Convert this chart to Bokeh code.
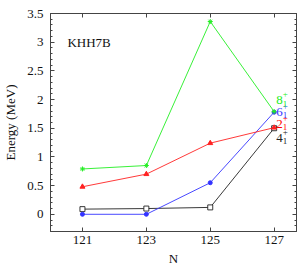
from bokeh.plotting import figure
from bokeh.models import FixedTicker, LinearAxis, Range1d
from bokeh.core.properties import value
from bokeh.embed import file_html
from bokeh.resources import INLINE

N = [121, 123, 125, 127]
e4 = [0.09, 0.10, 0.12, 1.50]   # black, 4_1^+
e6 = [0.00, 0.00, 0.55, 1.78]   # blue, 6_1^+
e2 = [0.48, 0.70, 1.24, 1.51]   # red, 2_1^+
e8 = [0.79, 0.85, 3.36, 1.79]   # green, 8_1^+

label_main = ["8", "6", "2", "4"]
label_x = [127.07, 127.07, 127.07, 127.07]
label_y = [1.99, 1.79, 1.58, 1.33]
label_colors = ["#22ee22", "#3333ff", "#ff0000", "#222222"]

y_ticks = [0, 0.5, 1, 1.5, 2, 2.5, 3, 3.5]
y_tick_labels = {0: "0", 0.5: "0.5", 1: "1", 1.5: "1.5", 2: "2", 2.5: "2.5", 3: "3", 3.5: "3.5"}
x_ticks = [121, 123, 125, 127]

FONT = "Liberation Serif"
GFONT = value("serif")
AX = "#444444"

p = figure(frame_width=246, frame_height=218, output_backend="svg", toolbar_location=None,
           x_range=Range1d(120.0, 127.7), y_range=Range1d(-0.3, 3.5),
           min_border_left=50, min_border_right=4, min_border_top=13, min_border_bottom=41)
p.xgrid.visible = False
p.ygrid.visible = False
p.outline_line_color = AX
p.outline_line_width = 1
p.background_fill_color = "white"

minor = [round(-0.3 + 0.1 * i, 2) for i in range(39)]
minor = [m for m in minor if all(abs(m - t) > 1e-6 for t in y_ticks)]

for ax in p.yaxis:
    ax.ticker = FixedTicker(ticks=y_ticks, minor_ticks=minor)
    ax.major_label_overrides = y_tick_labels
for ax in p.xaxis:
    ax.ticker = FixedTicker(ticks=x_ticks, minor_ticks=[])

def style(ax):
    ax.axis_line_color = AX
    ax.major_tick_line_color = AX
    ax.minor_tick_line_color = AX
    ax.major_tick_in = 4
    ax.major_tick_out = 0
    ax.minor_tick_in = 2
    ax.minor_tick_out = 0
    ax.major_label_text_font = FONT
    ax.major_label_text_font_size = "13px"
    ax.major_label_text_color = "#111111"
    ax.axis_label_text_font = FONT
    ax.axis_label_text_font_size = "13px"
    ax.axis_label_text_font_style = "normal"
    ax.axis_label_text_color = "#111111"

style(p.xaxis[0])
style(p.yaxis[0])
p.xaxis[0].axis_label = "N"
p.yaxis[0].axis_label = "Energy (MeV)"
p.xaxis[0].major_label_standoff = 4
p.yaxis[0].major_label_standoff = 7
p.xaxis[0].axis_label_standoff = 4
p.yaxis[0].axis_label_standoff = 6

right = LinearAxis(ticker=FixedTicker(ticks=y_ticks, minor_ticks=minor))
style(right)
right.major_label_overrides = {t: "" for t in y_ticks}
right.major_label_standoff = 0
p.add_layout(right, "right")
top = LinearAxis(ticker=FixedTicker(ticks=x_ticks, minor_ticks=[]))
style(top)
top.major_label_overrides = {t: "" for t in x_ticks}
top.major_label_standoff = 0
p.add_layout(top, "above")

lw = 0.9
p.line(N, e4, color="#222222", line_width=lw)
p.scatter(N, e4, marker="square", size=5, line_color="#222222", fill_color="white", line_width=0.9)
p.line(N, e6, color="#3333ff", line_width=lw)
p.scatter(N, e6, marker="circle", size=4, color="#3333ff")
p.line(N, e2, color="#ff2222", line_width=lw)
p.scatter(N, e2, marker="triangle", size=5, color="#ff2222")
p.line(N, e8, color="#22ee22", line_width=lw)
p.scatter(N, e8, marker="asterisk", size=5, line_color="#22ee22", line_width=1)

p.text(x=label_x, y=label_y, text=label_main, text_color=label_colors,
       text_font=GFONT, text_font_size="13px", text_baseline="middle", text_align="left")
p.text(x=label_x, y=label_y, text=["+"] * 4, text_color=label_colors, x_offset=6.5, y_offset=-6,
       text_font=GFONT, text_font_size="9px", text_baseline="middle", text_align="left")
p.text(x=label_x, y=label_y, text=["1"] * 4, text_color=label_colors, x_offset=6.5, y_offset=3.5,
       text_font=GFONT, text_font_size="9px", text_baseline="middle", text_align="left")

p.text(x=[120.53], y=[3.0], text=["KHH7B"], text_color="#111111",
       text_font=GFONT, text_font_size="13px", text_baseline="middle", text_align="left")

open("out.html", "w").write(file_html(p, INLINE))
